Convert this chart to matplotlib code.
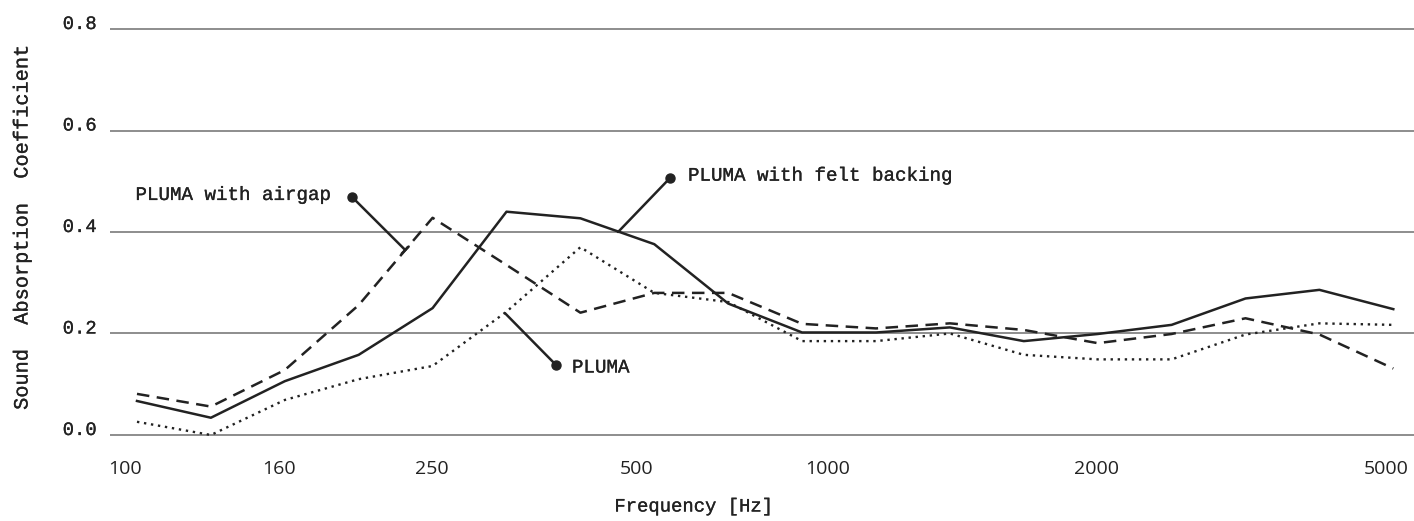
import matplotlib
matplotlib.use('Agg')
import matplotlib.pyplot as plt
import matplotlib.patheffects as pe

# 1/3 octave band centre frequencies
freqs = [100, 125, 160, 200, 250, 315, 400, 500, 630, 800,
         1000, 1250, 1600, 2000, 2500, 3150, 4000, 5000]

pluma = [0.026, 0.000, 0.069, 0.110, 0.136, 0.243, 0.370, 0.280, 0.262,
         0.185, 0.185, 0.200, 0.158, 0.149, 0.149, 0.198, 0.220, 0.217]
pluma_felt = [0.067, 0.034, 0.106, 0.158, 0.250, 0.440, 0.427, 0.376, 0.259,
              0.202, 0.202, 0.212, 0.185, 0.199, 0.217, 0.269, 0.286, 0.248]
pluma_airgap = [0.081, 0.056, 0.128, 0.256, 0.428, 0.335, 0.241, 0.280, 0.280,
                0.219, 0.210, 0.220, 0.207, 0.181, 0.199, 0.230, 0.198, 0.131]

tick_labels = ['100', '160', '250', '500', '1000', '2000', '5000']
tick_pos = [-0.16, 1.92, 3.99, 6.76, 9.34, 12.99, 16.90]
y_ticks = [0.0, 0.2, 0.4, 0.6, 0.8]

MONO = 'Liberation Mono'
INK = '#222222'
# slightly heavier text, the original font is a bit bolder
bold = [pe.withStroke(linewidth=0.2, foreground=INK)]

x = list(range(len(freqs)))

fig = plt.figure(figsize=(14.14, 5.21), dpi=100)
ax = fig.add_axes([0.0778, 0.1456, 0.9222, 0.8182])

ax.plot(x, pluma, color=INK, lw=1.7, linestyle=(0, (1, 2)))
ax.plot(x, pluma_felt, color=INK, lw=1.8)
ax.plot(x, pluma_airgap, color=INK, lw=1.8, linestyle=(0, (5, 3)))

ax.set_xlim(-0.365, 17.28)
ax.set_ylim(-0.02, 0.82)
ax.set_yticks(y_ticks)
ax.set_yticklabels([f'{v:.1f}' for v in y_ticks], family=MONO, fontsize=13.6, color=INK)
for lab in ax.get_yticklabels():
    lab.set_va('baseline')
    lab.set_path_effects(bold)
ax.set_xticks(tick_pos)
ax.set_xticklabels(tick_labels, family='Open Sans', fontsize=14, color=INK)
ax.tick_params(axis='both', length=0)
ax.tick_params(axis='y', pad=9.5)
ax.tick_params(axis='x', pad=11)
for s in ax.spines.values():
    s.set_visible(False)
ax.grid(axis='y', color='#6f6f6f', lw=1.1)
ax.set_axisbelow(True)

# callouts: (label, dot position, line end, text position, alignment)
callouts = [
    ('PLUMA with airgap', (2.91, 0.469), (3.63, 0.3645), (2.625, 0.472), 'right', '-['),
    ('PLUMA with felt backing', (7.21, 0.506), (6.51, 0.400), (7.456, 0.510), 'left', '-'),
    ('PLUMA', (5.67, 0.138), (4.98, 0.240), (5.886, 0.132), 'left', '-'),
]
for label, dot, end, tpos, ha, style in callouts:
    if style == '-[':
        aprops = dict(arrowstyle='-[, widthB=0.35, lengthB=0', color=INK, lw=1.8,
                      shrinkA=0, shrinkB=0)
    else:
        aprops = dict(arrowstyle='-', color=INK, lw=1.8, shrinkA=0, shrinkB=0)
    ax.annotate('', xy=end, xytext=dot, arrowprops=aprops)
    ax.plot([dot[0]], [dot[1]], 'o', color=INK, ms=6.5)
    ax.text(tpos[0], tpos[1], label, ha=ha, va='center', family=MONO,
            fontsize=13.8, color=INK, path_effects=bold)

fig.text(22 / 1414, 1 - 228 / 521, 'Sound  Absorption  Coefficient', rotation=90,
         ha='center', va='center', family=MONO, fontsize=14.6, color=INK,
         path_effects=bold)
fig.text(694 / 1414, 1 - 507 / 521, 'Frequency [Hz]', ha='center', va='center',
         family=MONO, fontsize=13.6, color=INK, path_effects=bold)

fig.savefig('out.png', dpi=100)
